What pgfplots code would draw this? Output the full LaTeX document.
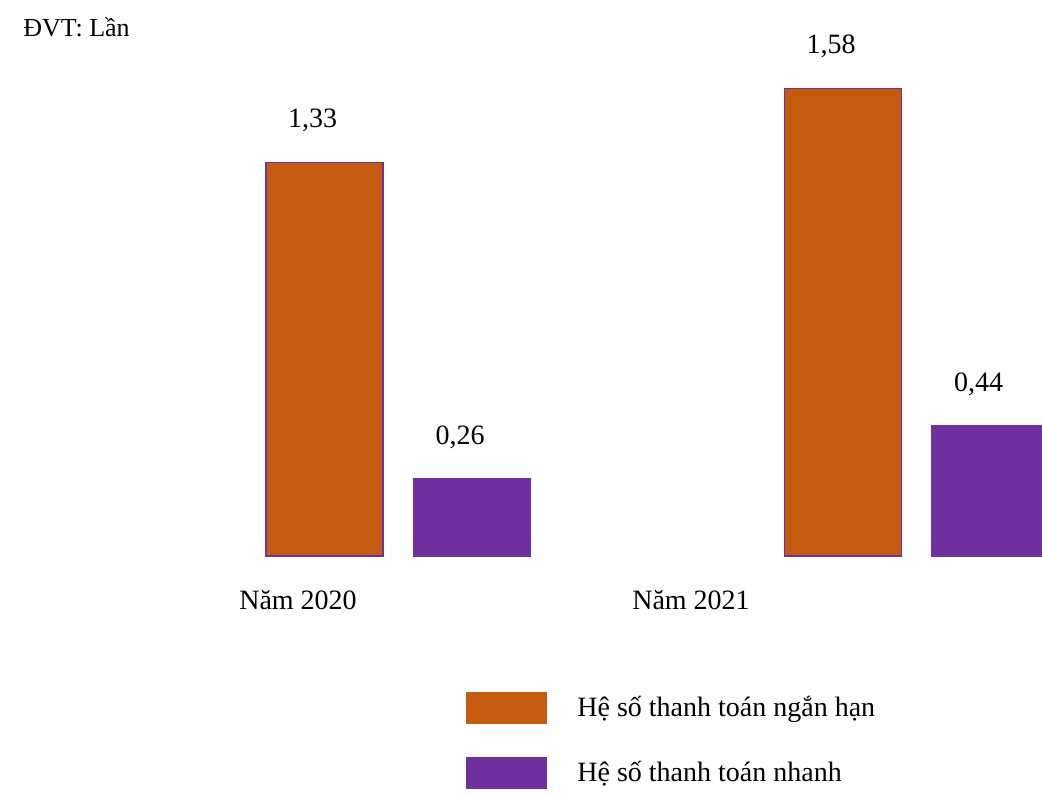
\documentclass[border=0pt]{standalone}
\usepackage{fontspec}
\setmainfont{Liberation Serif}
\usepackage{pgfplots}
\pgfplotsset{compat=1.18}
\definecolor{barorange}{HTML}{C55A11}
\definecolor{barpurple}{HTML}{7030A0}
\begin{document}
\begin{tikzpicture}[font=\fontsize{14}{17}\selectfont]
\begin{axis}[
  scale only axis,
  width=521pt, height=396.5pt,
  xmin=0, xmax=1042,
  ymin=-0.8012, ymax=1.8796,
  axis x line=middle, axis y line=none,
  x axis line style={draw=none},
  xtick={298,691},
  xticklabels={Năm 2020, Năm 2021},
  major tick length=0pt,
  xticklabel style={anchor=center, yshift=-22pt, font=\fontsize{14}{17}\selectfont},
  ytick=\empty,
  /pgf/number format/assume math mode=true,
  ybar, bar width=117,
  nodes near coords={\pgfmathprintnumber[fixed, fixed zerofill, precision=2, use comma, assume math mode=true]{\pgfplotspointmeta}},
  every node near coord/.append style={anchor=center, yshift=21pt, xshift=-6pt, text=black, font=\fontsize{14}{17}\selectfont},
  legend image code/.code={\fill[#1, draw=none] (0pt,-8pt) rectangle (40.5pt,8pt);},
  legend style={at={(axis cs:466,-0.4574)}, anchor=north west, draw=none, fill=none, inner sep=0pt,
    row sep=16.5pt, font=\fontsize{14}{17}\selectfont, legend cell align=left,
    /tikz/every odd column/.append style={column sep=13pt}},
]
\addplot[bar shift=0pt, fill=barorange, draw=barpurple, line width=0.75pt]
  coordinates {(324.5,1.33) (843,1.58)};
\addlegendentry{Hệ số thanh toán ngắn hạn}
\addplot[bar shift=0pt, fill=barpurple, draw=barpurple, line width=0.75pt]
  coordinates {(472,0.26) (990.5,0.44)};
\addlegendentry{Hệ số thanh toán nhanh}
\node[anchor=west, inner sep=0pt, font=\fontsize{13}{16}\selectfont] at (axis cs:23,1.788) {ĐVT: Lần};
\end{axis}
\pgfresetboundingbox
\path[use as bounding box] (current axis.south west) rectangle (current axis.north east);
\end{tikzpicture}
\end{document}
